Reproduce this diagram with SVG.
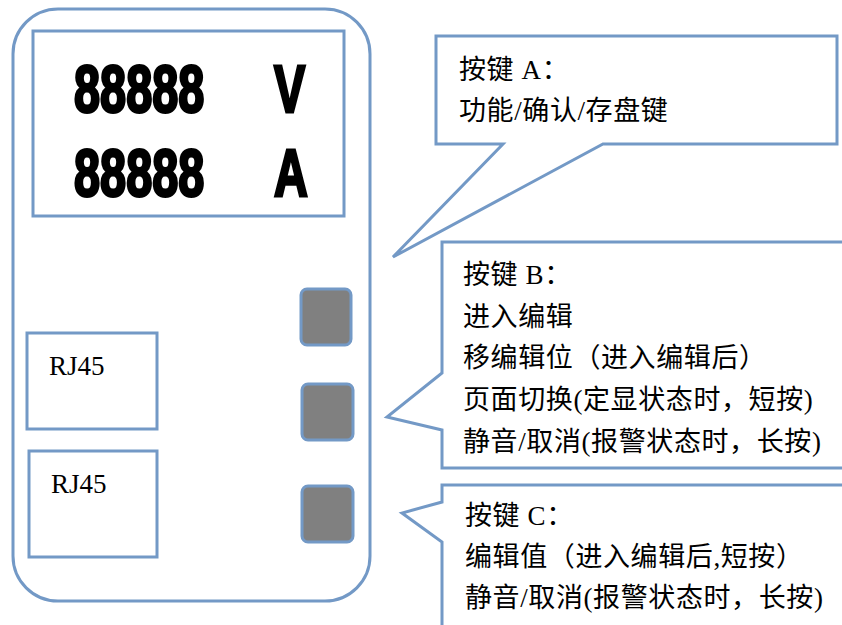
<svg xmlns="http://www.w3.org/2000/svg" width="842" height="625" viewBox="0 0 842 625">
<style>
.ln{fill:#fff;stroke:#7399c6;stroke-width:3;stroke-linejoin:miter}
.btn{fill:#808080;stroke:#7399c6;stroke-width:3}
.t{font-family:"Liberation Serif","Noto Sans CJK SC",serif;font-size:27px;letter-spacing:0.6px;fill:#000}
.rj{font-family:"Liberation Serif",serif;font-size:27px;fill:#000}
.seg{font-family:"Liberation Sans",sans-serif;font-weight:bold;font-size:67px;fill:#000;stroke:#000;stroke-width:3}
</style>
<rect width="842" height="625" fill="#fff"/>
<g id="device">
<rect class="ln" x="13" y="9" width="357" height="592" rx="45" ry="45"/>
</g>
<g id="display">
<rect class="ln" x="33" y="31" width="311" height="185"/>
<text class="seg" transform="translate(74,112) scale(0.7,1)">88888</text>
<text class="seg" transform="translate(274,112) scale(0.7,1)">V</text>
<text class="seg" transform="translate(74,196) scale(0.7,1)">88888</text>
<text class="seg" transform="translate(274,196) scale(0.7,1)">A</text>
</g>
<g id="rj45-1">
<rect class="ln" x="27" y="333" width="130" height="96"/>
<text class="rj" x="49" y="375">RJ45</text>
</g>
<g id="rj45-2">
<rect class="ln" x="29" y="451" width="128" height="106"/>
<text class="rj" x="51" y="493">RJ45</text>
</g>
<g id="button-a"><rect class="btn" x="301" y="289" width="50" height="56" rx="6"/></g>
<g id="button-b"><rect class="btn" x="302" y="384" width="51" height="56" rx="6"/></g>
<g id="button-c"><rect class="btn" x="302" y="486" width="51" height="56" rx="6"/></g>
<g id="callout-a">
<path class="ln" d="M436,36 H837 V144 H603 L393,257 L503,144 H436 Z"/>
<text class="t" x="459" y="79">按键 A：</text>
<text class="t" x="459" y="120">功能/确认/存盘键</text>
</g>
<g id="callout-b">
<path class="ln" d="M442,242 H845 V468 H442 V430 L387,417 L442,373 Z"/>
<text class="t" x="463" y="284">按键 B：</text>
<text class="t" x="463" y="326">进入编辑</text>
<text class="t" x="463" y="367">移编辑位（进入编辑后）</text>
<text class="t" x="463" y="409">页面切换(定显状态时，短按)</text>
<text class="t" x="463" y="451">静音/取消(报警状态时，长按)</text>
</g>
<g id="callout-c">
<path class="ln" d="M442,630 V542 L402,513 L442,502 V485 H845"/>
<text class="t" x="465" y="525">按键 C：</text>
<text class="t" x="465" y="566">编辑值（进入编辑后,短按）</text>
<text class="t" x="465" y="607">静音/取消(报警状态时，长按)</text>
</g>
<g id="connectors"></g>
</svg>
